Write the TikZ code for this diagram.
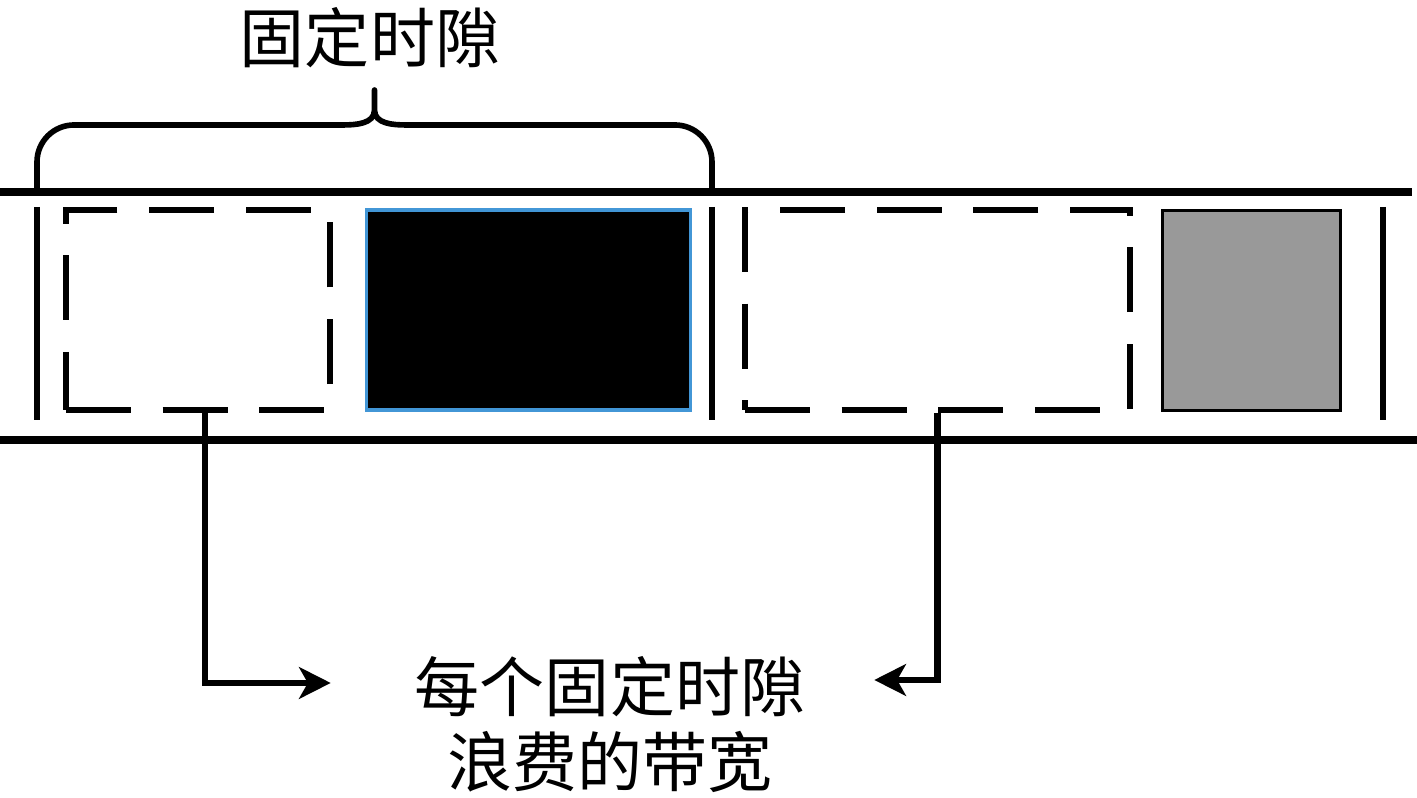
\documentclass[tikz,border=0pt]{standalone}
\usepackage{fontspec}
\newfontfamily\cjk{Noto Sans CJK SC}
\usetikzlibrary{positioning,arrows.meta,calc}

\definecolor{edgeblue}{RGB}{66,150,214}
\definecolor{usedgray}{RGB}{153,153,153}

\begin{document}
\begin{tikzpicture}[node distance=0.32cm,
    idle/.style={draw,line width=1.7pt,dash pattern=on 18.5pt off 9pt,minimum width=#1,minimum height=2cm,inner sep=0pt},
    busy/.style={draw=edgeblue,fill=black,line width=0.9pt,minimum width=3.24cm,minimum height=2cm,inner sep=0pt},
    part/.style={draw,fill=usedgray,line width=0.9pt,minimum width=1.78cm,minimum height=2cm,inner sep=0pt},
    rail/.style={line width=2.4pt},
    sep/.style={line width=1.7pt},
    brace/.style={line width=1.6pt,line join=round},
    flow/.style={line width=1.8pt,-{Stealth[length=9pt,width=9pt,inset=2.5pt]}},
    label/.style={font=\cjk\fontsize{18.5}{20.5}\selectfont,inner sep=1pt}]

    \useasboundingbox (0,0) rectangle (14.17,7.98);

    % rails
    \coordinate (railTL) at (0,6.06);
    \coordinate (railTR) at (14.12,6.06);
    \coordinate (railBL) at (0,3.58);
    \coordinate (railBR) at (14.17,3.58);
    \draw[rail] (railTL) -- (railTR);
    \draw[rail] (railBL) -- (railBR);

    % slots
    \node (idleA) [idle=2.64cm] at (1.98,4.88) {};
    \node (busyA) [busy, right=of idleA] {};
    \node (idleB) [idle=3.85cm] at (9.375,4.875) {};
    \node (partB) [part, right=0.28cm of idleB] {};

    % separators
    \foreach \x/\name in {0.37/sepA,7.12/sepB,13.83/sepC} {
        \coordinate (\name top) at (\x,5.91);
        \coordinate (\name bot) at (\x,3.78);
        \draw[sep] (\name top) -- (\name bot);
    }

    % brace over one slot
    \coordinate (bl) at (0.37,6.06);
    \coordinate (br) at (7.12,6.06);
    \coordinate (tip) at (3.745,7.08);
    \draw[brace] (bl) -- ++(0,0.30) arc[start angle=180,end angle=90,radius=0.37]
        -- (3.42,6.73) to[out=0,in=-90] (3.745,6.88) -- (tip)
        -- (3.745,6.88) to[out=-90,in=180] (4.07,6.73)
        -- (6.75,6.73) arc[start angle=90,end angle=0,radius=0.37] -- (br);
    \node (slotlabel) [label] at (3.70,7.60) {固定时隙};

    % note
    \node (noteA) [label] at (6.10,1.11) {每个固定时隙};
    \node (noteB) [label, below=0.06cm of noteA] {浪费的带宽};

    \draw[flow] ([xshift=0.7mm]idleA.south) |- ([xshift=-0.8cm,yshift=0.04cm]noteA.west);
    \draw[flow] (idleB.south) |- ([xshift=0.65cm,yshift=0.07cm]noteA.east);

\end{tikzpicture}
\end{document}
